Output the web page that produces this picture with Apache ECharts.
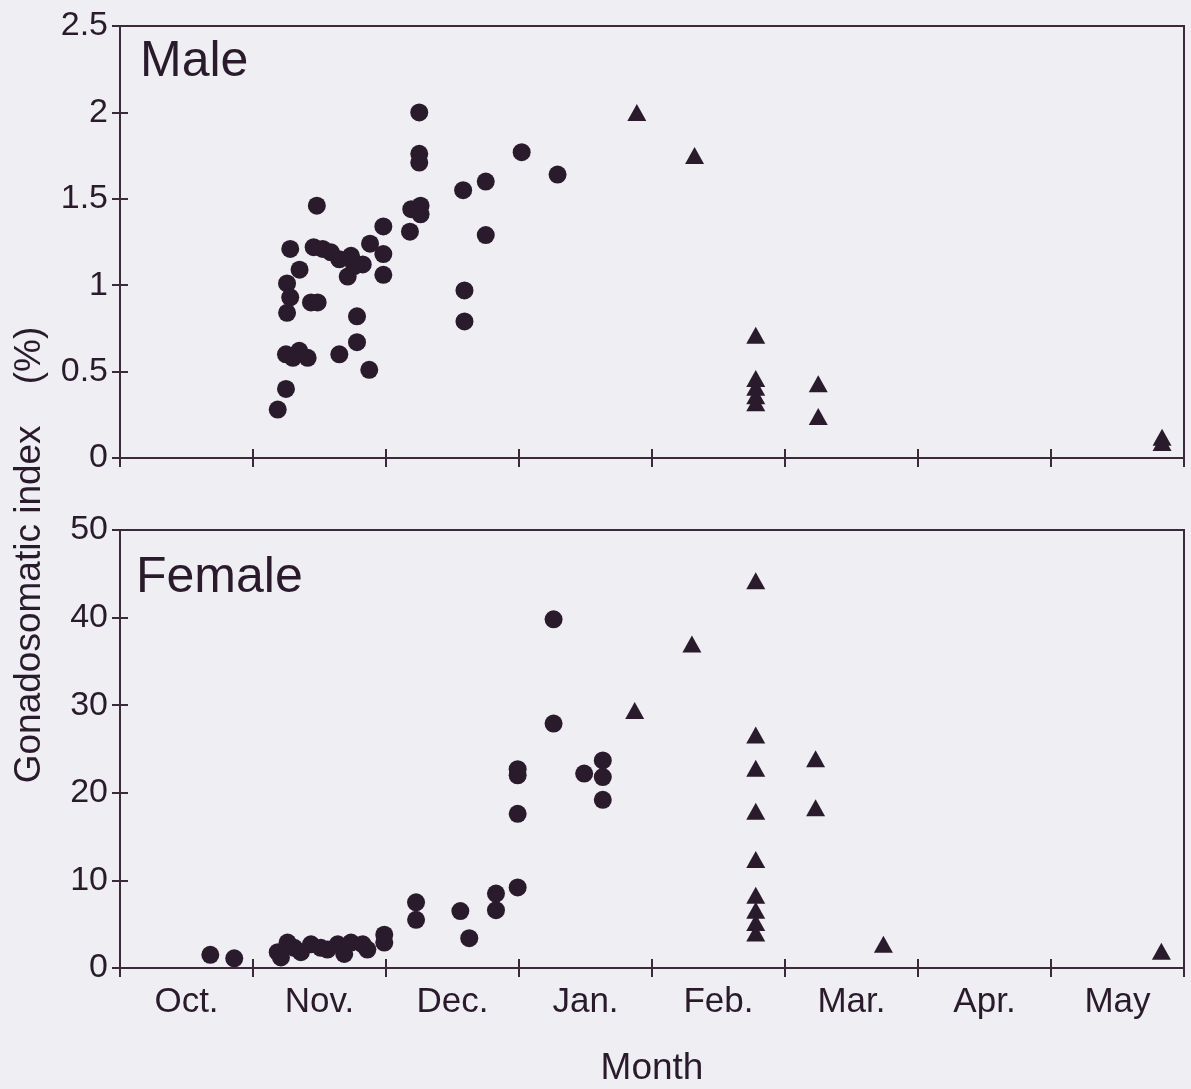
<!DOCTYPE html>
<html>
<head>
<meta charset="utf-8">
<script src="https://cdn.jsdelivr.net/npm/echarts@6/dist/echarts.min.js"></script>
<style>
html,body{margin:0;padding:0;background:#efeef3;}
#chart{width:1191px;height:1089px;}
</style>
</head>
<body>
<div id="chart"></div>
<script>
// x = months elapsed since 1 October (0 = Oct 1, 8 = end of May)
const months = ['Oct.', 'Nov.', 'Dec.', 'Jan.', 'Feb.', 'Mar.', 'Apr.', 'May'];
const maleTicks = [0, 0.5, 1, 1.5, 2, 2.5];
const femaleTicks = [0, 10, 20, 30, 40, 50];

// Male, circles
const maleCircleX = [2.25, 2.25, 2.25, 3.02, 3.29, 2.58, 2.75, 1.48, 2.19, 2.26, 2.26, 1.98, 2.18, 2.75, 1.28,
  1.456, 1.524, 1.586, 1.649, 1.737, 1.762, 1.825, 1.712, 1.88, 1.98, 1.98, 1.35, 1.256, 1.28, 1.256,
  1.436, 1.486, 1.782, 1.782, 1.649, 1.874, 1.248, 1.30, 1.348, 1.411, 1.248, 1.186, 2.59, 2.59];
const maleCircleY = [2.0, 1.76, 1.71, 1.77, 1.64, 1.55, 1.60, 1.46, 1.44, 1.46, 1.41, 1.34, 1.31, 1.29, 1.21,
  1.22, 1.21, 1.19, 1.15, 1.17, 1.11, 1.12, 1.05, 1.24, 1.18, 1.06, 1.09, 1.01, 0.93, 0.84,
  0.90, 0.90, 0.82, 0.67, 0.60, 0.51, 0.60, 0.58, 0.62, 0.58, 0.40, 0.28, 0.97, 0.79];
// Male, triangles
const maleTriX = [3.886, 4.32, 4.78, 4.78, 4.78, 4.78, 4.78, 5.25, 5.25, 7.835, 7.835];
const maleTriY = [2.0, 1.75, 0.71, 0.46, 0.41, 0.36, 0.32, 0.43, 0.24, 0.12, 0.09];

// Female, circles
const femaleCircleX = [0.679, 0.859, 1.186, 1.21, 1.26, 1.31, 1.36, 1.436, 1.51, 1.56, 1.637, 1.686, 1.737, 1.825, 1.86,
  1.987, 1.987, 2.226, 2.226, 2.559, 2.626, 2.827, 2.827, 2.99, 2.99, 2.99, 2.99, 3.26, 3.26, 3.49, 3.63, 3.63, 3.63];
const femaleCircleY = [1.5, 1.1, 1.8, 1.2, 2.9, 2.3, 1.8, 2.7, 2.3, 2.1, 2.7, 1.6, 2.9, 2.7, 2.1,
  3.8, 2.9, 7.5, 5.5, 6.5, 3.4, 8.5, 6.6, 9.2, 17.6, 22.0, 22.7, 39.8, 27.9, 22.2, 23.7, 21.8, 19.2];
// Female, triangles
const femaleTriX = [3.87, 4.30, 4.78, 4.78, 4.78, 4.78, 4.78, 4.78, 4.78, 4.78, 4.78, 5.23, 5.23, 5.74, 7.83];
const femaleTriY = [29.4, 37.0, 44.2, 26.6, 22.8, 17.9, 12.4, 8.3, 6.6, 5.2, 4.0, 23.9, 18.3, 2.7, 1.9];

const ink = '#2a1b2c';
const lineCol = '#3a2a3b';
const font = 'Liberation Sans, Arial, sans-serif';

function pairs(xs, ys) { return xs.map((x, i) => [x, ys[i]]); }

const chart = echarts.init(document.getElementById('chart'), null, {renderer: 'canvas'});

const topRect = {left: 120, top: 26, width: 1064, height: 432};
const botRect = {left: 120, top: 530, width: 1064, height: 438};
const grids = [
  Object.assign({show: true, borderColor: lineCol, borderWidth: 2, backgroundColor: 'transparent'}, topRect),
  Object.assign({show: true, borderColor: lineCol, borderWidth: 2, backgroundColor: 'transparent'}, botRect),
  Object.assign({show: false}, topRect),   // overlay grids: inward half of the crossing ticks
  Object.assign({show: false}, botRect)
];

function valX(gi, inside) {
  return {
    type: 'value', gridIndex: gi, min: 0, max: 8, interval: 1, position: 'bottom',
    axisLine: {show: true, onZero: false, lineStyle: {color: lineCol, width: 2}},
    axisTick: {show: true, inside: inside, length: 9, lineStyle: {color: lineCol, width: 2}},
    axisLabel: {show: false}, splitLine: {show: false}
  };
}
function valY(gi, max, interval, inside) {
  return {
    type: 'value', gridIndex: gi, min: 0, max: max, interval: interval, position: 'left',
    axisLine: {show: true, onZero: false, lineStyle: {color: lineCol, width: 2}},
    axisTick: {show: true, inside: inside, length: 8, lineStyle: {color: lineCol, width: 2}},
    axisLabel: {show: !inside, margin: 12, color: ink, fontSize: 34, fontFamily: font,
      formatter: v => String(v)},
    splitLine: {show: false}
  };
}

const option = {
  backgroundColor: '#efeef3',
  animation: false,
  grid: grids,
  xAxis: [
    valX(0, false),
    valX(1, false),
    {
      type: 'category', gridIndex: 1, data: months, boundaryGap: true, position: 'bottom',
      axisLine: {show: false}, axisTick: {show: false},
      axisLabel: {show: true, margin: 17, color: ink, fontSize: 35, fontFamily: font},
      name: 'Month', nameLocation: 'middle', nameGap: 82,
      nameTextStyle: {color: ink, fontSize: 37, fontFamily: font}
    },
    valX(2, true),
    valX(3, true)
  ],
  yAxis: [
    valY(0, 2.5, 0.5, false),
    valY(1, 50, 10, false),
    valY(2, 2.5, 0.5, true),
    valY(3, 50, 10, true)
  ],
  graphic: [
    {type: 'text', x: 140, y: 62, style: {text: 'Male', fill: ink, font: '50px ' + font, verticalAlign: 'middle', align: 'left'}},
    {type: 'text', x: 136, y: 578, style: {text: 'Female', fill: ink, font: '50px ' + font, verticalAlign: 'middle', align: 'left'}},
    {type: 'text', x: 30, y: 555, rotation: Math.PI / 2,
      style: {text: 'Gonadosomatic index    (%)', fill: ink, font: '37px ' + font, align: 'center', verticalAlign: 'middle'}}
  ],
  series: [
    {type: 'scatter', name: 'Male', xAxisIndex: 0, yAxisIndex: 0, symbol: 'circle', symbolSize: 18,
      itemStyle: {color: ink, opacity: 1}, data: pairs(maleCircleX, maleCircleY)},
    {type: 'scatter', name: 'Male', xAxisIndex: 0, yAxisIndex: 0, symbol: 'triangle', symbolSize: [19, 17],
      itemStyle: {color: ink, opacity: 1}, data: pairs(maleTriX, maleTriY)},
    {type: 'scatter', name: 'Female', xAxisIndex: 1, yAxisIndex: 1, symbol: 'circle', symbolSize: 18,
      itemStyle: {color: ink, opacity: 1}, data: pairs(femaleCircleX, femaleCircleY)},
    {type: 'scatter', name: 'Female', xAxisIndex: 1, yAxisIndex: 1, symbol: 'triangle', symbolSize: [19, 17],
      itemStyle: {color: ink, opacity: 1}, data: pairs(femaleTriX, femaleTriY)}
  ]
};
chart.setOption(option);
</script>
</body>
</html>
